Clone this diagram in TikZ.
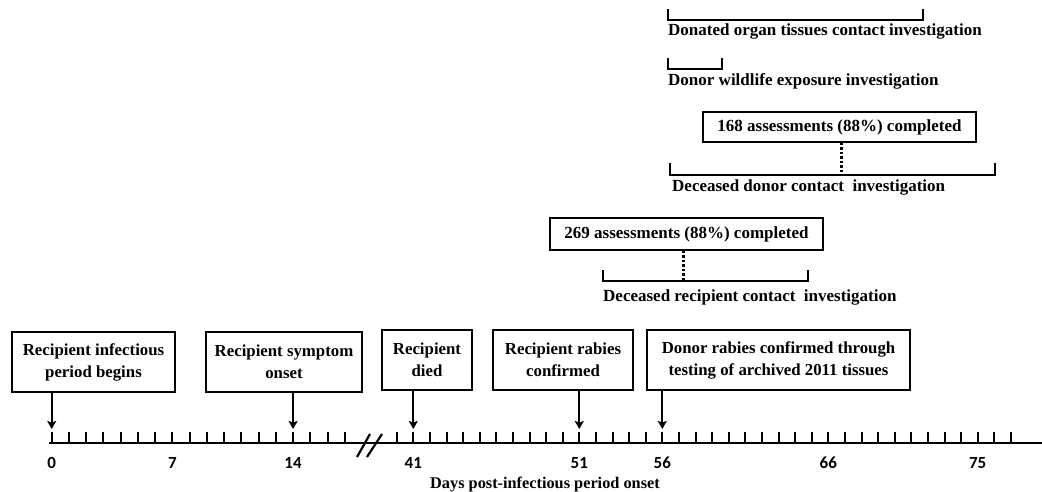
\documentclass[tikz,border=0pt]{standalone}
\usepackage{fontspec}
\setmainfont{Liberation Serif}
\newfontfamily\axisfont{Carlito}
\usetikzlibrary{arrows.meta}
\begin{document}
\begin{tikzpicture}[x=1pt,y=-1pt,
  evbox/.style={draw,line width=1.7pt,rectangle,inner sep=0pt,align=center,
     font=\fontsize{16.8}{22}\selectfont\bfseries},
  countbox/.style={draw,line width=1.7pt,rectangle,inner sep=0pt,align=center,
     font=\fontsize{17}{20}\selectfont\bfseries},
  lbl/.style={inner sep=0pt,anchor=base west,font=\fontsize{17}{20}\selectfont\bfseries},
  arr/.style={line width=1.9pt,-{Stealth[length=8pt,width=9pt,inset=1.5pt]}},
  brk/.style={line width=2.2pt,line join=miter,line cap=rect},
  dotl/.style={line width=3pt,dash pattern=on 2.5pt off 2pt},
  axis/.style={line width=2.2pt},
  tick/.style={line width=2pt},
  ticklbl/.style={inner sep=0pt,anchor=base,font=\fontsize{17}{19}\axisfont\bfseries}
]
\useasboundingbox (0,0) rectangle (1042,492);

% ---------- axis ----------
\coordinate (axL) at (49,443);
\coordinate (axR) at (1042,443);
\draw[axis] (axL) -- (axR);
\foreach \d in {0,...,17}{
  \draw[tick] ({51.7+17.24*\d},443) -- ({51.7+17.24*\d},432);
}
\foreach \d in {40,...,77}{
  \draw[tick] ({413.3+16.6*(\d-41)},443) -- ({413.3+16.6*(\d-41)},432);
}
% break marks
\draw[line width=2.2pt] (357,457) -- (370,434);
\draw[line width=2.2pt] (367,457) -- (382,434);

% tick labels
\node[ticklbl] (l0)  at (51.7,468) {0};
\node[ticklbl] (l7)  at (172.4,468) {7};
\node[ticklbl] (l14) at (293.1,468) {14};
\node[ticklbl] (l41) at (413.3,468) {41};
\node[ticklbl] (l51) at (579.3,468) {51};
\node[ticklbl] (l56) at (662.3,468) {56};
\node[ticklbl] (l66) at (828.3,468) {66};
\node[ticklbl] (l75) at (977.7,468) {75};
\node[inner sep=0pt,anchor=base,font=\fontsize{16.3}{19}\selectfont\bfseries] (ttl) at (545,488) {Days post-infectious period onset};

% ---------- event boxes ----------
\node[evbox,minimum width=163pt,minimum height=60pt] (b1) at (93.5,362) {Recipient infectious\\period begins};
\node[evbox,minimum width=156pt,minimum height=60pt] (b2) at (284,362) {Recipient symptom\\onset};
\node[evbox,minimum width=90pt,minimum height=60pt] (b3) at (427,360) {Recipient\\died};
\node[evbox,minimum width=140pt,minimum height=60pt] (b4) at (563,360) {Recipient rabies\\confirmed};
\node[evbox,minimum width=263pt,minimum height=60pt] (b5) at (778.5,360) {Donor rabies confirmed through\\testing of archived 2011 tissues};

\coordinate (a0)  at (51.7,429);
\coordinate (a14) at (293.1,429);
\coordinate (a41) at (413.3,429);
\coordinate (a51) at (579.3,429);
\coordinate (a56) at (662.3,429);
\draw[arr] (b1.south -| a0) -- (a0);
\draw[arr] (b2.south -| a14) -- (a14);
\draw[arr] (b3.south -| a41) -- (a41);
\draw[arr] (b4.south -| a51) -- (a51);
\draw[arr] (b5.south -| a56) -- (a56);

% ---------- investigations ----------
% donated organ tissues
\draw[brk] (668,10) -- (668,20) -- (923,20) -- (923,10);
\node[lbl] (t1) at (668,36) {Donated organ tissues contact investigation};
% donor wildlife
\draw[brk] (668,59) -- (668,69) -- (722,69) -- (722,59);
\node[lbl] (t2) at (668,86) {Donor wildlife exposure investigation};
% deceased donor contact
\node[countbox,minimum width=273pt,minimum height=30pt] (c1) at (839.5,127) {168 assessments (88\%) completed};
\coordinate (d1) at (841,175);
\draw[brk] (670,164) -- (670,175) -- (995,175) -- (995,164);
\draw[dotl] (c1.south -| d1) -- (d1);
\node[lbl] (t3) at (672,191) {Deceased donor contact\ \ investigation};
% deceased recipient contact
\node[countbox,minimum width=273pt,minimum height=32pt] (c2) at (686.5,234) {269 assessments (88\%) completed};
\coordinate (d2) at (683,281);
\draw[brk] (603,271) -- (603,281) -- (808,281) -- (808,271);
\draw[dotl] (c2.south -| d2) -- (d2);
\node[lbl] (t4) at (603,301) {Deceased recipient contact\ \ investigation};
\end{tikzpicture}
\end{document}
